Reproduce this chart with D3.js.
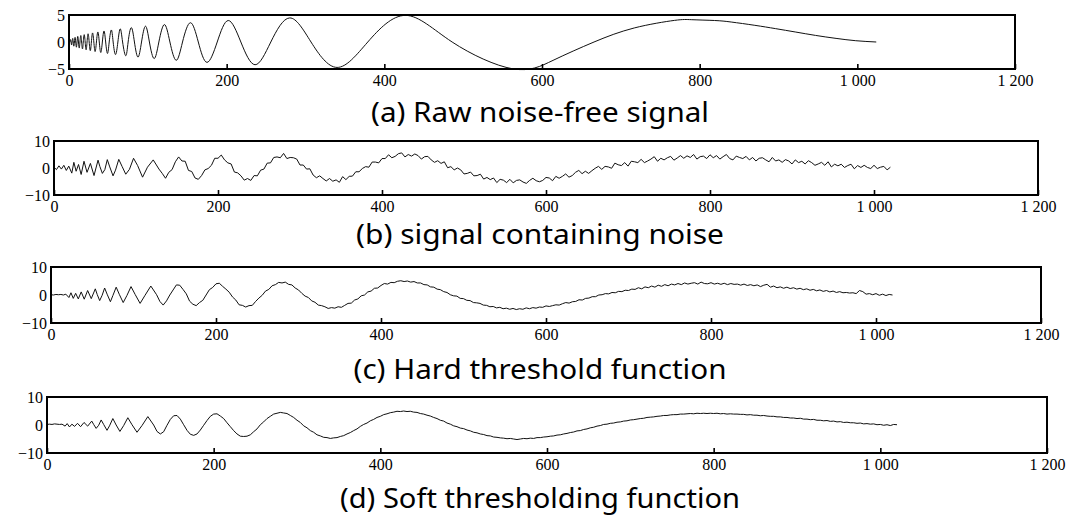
<!DOCTYPE html>
<meta charset="utf-8">
<html>
<head>
<title>wavelet denoising - doppler</title>
<style>
body { margin:0; background:#fff; }
svg text.caption { font-family:"Noto Sans", sans-serif; font-size:28px; fill:#000; }
</style>
</head>
<body>
<svg class="chart" width="1067" height="516"></svg>

<script src="https://cdn.jsdelivr.net/npm/d3@7"></script>
<script>

const xTicks = [0, 200, 400, 600, 800, 1000, 1200]
const captions = [
  "(a) Raw noise-free signal",
  "(b) signal containing noise",
  "(c) Hard threshold function",
  "(d) Soft thresholding function"
]

// (a) clean signal: extrema and zero crossings
const cleanSignal = [
[0,0],[1.2,0],[1.9,0.44],[2.6,0],[3.3,-0.56],[3.9,0],[4.7,0.67],[5.4,0],[6.1,-0.77],[6.9,0],
[7.7,0.86],[8.5,0],[9.4,-0.96],[10.2,0],[11.1,1.04],[12,0],[13,-1.12],[13.9,0],[15,1.2],[16,0],
[17.1,-1.28],[18.1,0],[19.3,1.36],[20.5,0],[21.7,-1.44],[22.9,0],[24.2,1.52],[25.6,0],[27,-1.6],[28.4,0],
[29.9,1.68],[31.5,0],[33.1,-1.77],[34.8,0],[36.6,1.86],[38.4,0],[40.3,-1.95],[42.3,0],[44.4,2.04],[46.5,0],
[48.8,-2.13],[51,0],[53.7,2.23],[56,0],[59,-2.33],[62,0],[65,2.44],[68,0],[72,-2.55],[75,0],
[79,2.67],[83,0],[87.5,-2.8],[92,0],[97,2.93],[102,0],[108,-3.07],[114,0],[121,3.23],[128,0],
[136,-3.39],[144,0],[154,3.57],[164,0],[175,-3.77],[188,0],[202,3.98],[218,0],[236,-4.21],[256,0],
[280,4.46],[307,0],[340,-4.71],[379,0],[427,4.93],[486,0],[563,-4.97],[614,-3.4],[666,0],[717,2.6],
[768,4.0],[790,4.13],[819,3.98],[840,3.7],[870,3.09],[896,2.48],[922,1.84],[947,1.22],[973,0.67],[998,0.24],
[1024,0]
]

// sample positions for the noisy / denoised traces
const sampleIdx = [0,3,6,9,12,15,18,21.7,24.2,27,29.9,33.1,36.6,40.3,44.4,48.8,53.7,
  56,59,62,65,68,72,75,79,83,87.5,92,97,102,108,114,121,128].concat(d3.range(132, 1021, 4))

// (b) signal containing noise
const noisySignal = [
0.3,-0.6,0.8,-0.4,1.0,-0.9,0.7, -1.9,2.1,-1.2,1.3,-2.4,2.5,-1.6,1.7,-2.8,2.9,
0.5,-2.0,-0.6,3.1,0.4,-2.9,-0.8,3.2,0.6,-2.3,-0.5,3.6,0.9,-3.4,0.3,3.0,-0.4,
-2.0,-3.8,-1.6,-0.6,2.3,4.1,2.6,2.5,-0.9,-1.3,-3.7,-4.2,-2.8,-0.7,-0.2,1.0,
3.6,3.6,4.8,3.0,1.9,1.5,-1.5,-1.8,-2.9,-4.5,-3.9,-4.6,-2.8,-2.9,-0.8,-0.4,
1.8,1.9,3.9,4.1,3.8,5.4,3.5,3.9,3.8,3.3,1.1,1.1,-0.4,-0.3,-2.6,-3.6,
-2.9,-3.9,-4.8,-3.9,-4.9,-4.4,-5.3,-3.2,-4.3,-3.1,-3.0,-1.4,-1.4,-0.2,0.5,0.3,
2.2,2.2,1.9,3.5,3.5,4.9,3.8,4.3,5.3,5.6,4.1,5.0,4.4,5.2,4.6,3.3,
4.2,4.3,3.0,2.1,2.7,1.7,2.3,0.1,0.5,-0.7,0.0,-0.7,-2.2,-2.0,-1.5,-2.9,
-2.8,-2.3,-4.1,-3.5,-4.3,-3.7,-5.4,-4.2,-4.5,-5.4,-4.2,-5.5,-4.6,-4.4,-5.2,-5.7,
-4.6,-3.8,-4.7,-5.1,-4.6,-3.5,-3.7,-4.7,-3.1,-3.8,-3.1,-2.2,-3.4,-2.8,-1.6,-0.9,
-2.1,-1.2,-2.0,-1.0,-0.1,0.6,-0.5,0.6,0.4,-0.1,1.8,1.2,0.9,2.0,0.7,2.5,
2.3,2.0,3.2,2.0,2.6,3.3,4.2,2.5,3.6,3.0,3.8,4.3,2.9,3.7,4.6,3.6,
4.5,3.9,5.0,3.3,4.2,4.4,3.5,4.9,3.8,4.6,3.3,4.2,5.0,3.5,3.0,4.4,
3.9,3.5,4.3,3.0,3.9,2.6,3.6,3.8,3.0,2.3,3.9,2.6,3.0,2.1,3.1,2.6,
1.5,3.0,2.0,2.5,1.5,2.7,2.0,1.0,1.5,2.1,1.0,2.3,0.4,1.4,0.8,1.4,
0.2,0.9,1.4,-0.3,0.9,0.2,1.0,0.2,-0.2,1.0,-0.2,0.3,0.6,-0.7,0.3
]

// (c) hard threshold result
const hardSignal = [
0.1,0.0,0.2,0.1,0.2,0.0,0.3, -0.9,0.8,-1.2,0.6,-1.4,1.1,-1.5,1.6,-1.3,2.2,
0.2,-2.0,-0.1,2.5,0.3,-2.4,-0.2,2.8,0.1,-2.7,-0.2,3.0,0.2,-3.0,-0.1,3.2,0.1,
-2.3,-3.6,-2.1,0.0,1.8,3.6,3.5,2.0,0.4,-2.2,-3.3,-3.8,-2.7,-1.9,0.0,1.9,
2.7,4.0,4.2,3.1,2.1,1.0,-0.7,-1.8,-3.5,-3.7,-4.3,-3.8,-3.7,-2.3,-1.1,-0.1,
1.4,2.0,3.3,3.7,4.5,4.3,4.6,3.8,3.6,2.5,1.8,0.6,-0.4,-0.9,-2.1,-2.6,
-3.6,-3.8,-4.2,-4.8,-4.5,-4.7,-4.2,-4.4,-3.7,-3.0,-2.9,-1.8,-1.4,-0.3,0.0,1.1,
1.4,2.4,2.5,3.4,4.1,3.9,4.5,4.4,4.9,5.1,4.8,5.0,4.6,4.8,4.3,4.3,
3.7,3.6,2.9,2.8,2.1,1.9,1.2,0.9,0.1,-0.3,-0.4,-1.2,-1.3,-1.9,-2.0,-2.7,
-2.8,-3.0,-3.6,-3.7,-4.2,-4.1,-4.6,-4.4,-4.9,-4.7,-5.1,-4.8,-5.2,-4.9,-5.1,-4.6,
-4.9,-4.5,-4.7,-4.3,-4.4,-3.9,-4.1,-3.8,-3.5,-3.6,-3.1,-2.7,-2.9,-2.4,-2.3,-1.7,
-1.8,-1.2,-1.1,-0.6,-0.6,0.0,0.1,0.5,0.4,0.9,0.8,1.3,1.2,1.7,1.6,2.1,
2.0,2.6,2.2,2.9,2.6,3.2,2.8,3.5,3.1,3.7,3.3,3.9,3.6,4.1,3.7,4.3,
3.9,4.2,4.4,3.9,4.6,4.1,4.0,4.4,3.9,4.2,3.8,4.2,3.7,4.1,3.8,3.9,
3.5,3.9,3.4,3.7,3.3,3.6,3.0,3.5,3.8,2.8,3.2,2.6,2.9,2.4,2.8,2.3,
2.6,2.1,2.4,1.9,2.2,1.7,2.0,1.5,1.8,1.3,1.6,1.1,1.4,0.9,1.2,0.8,
0.9,0.7,0.8,0.5,1.6,1.2,0.3,0.5,0.1,0.5,-0.1,0.3,-0.2,0.2,0.0
]

// (d) soft threshold result
const softSignal = [
0.2,0.3,0.2,0.4,0.3,0.2,0.3, -0.4,0.5,-0.7,0.3,-0.5,0.6,-0.6,0.9,-0.4,1.4,
0.2,-1.2,-0.1,1.8,0.2,-1.9,-0.3,2.3,0.0,-2.3,-0.2,2.6,0.1,-2.6,-0.2,3.0,0.0,
-2.3,-3.2,-2.4,-0.1,2.0,3.3,3.4,2.1,0.1,-1.9,-3.3,-3.7,-3.2,-1.8,-0.1,1.6,
3.1,3.9,4.0,3.2,2.3,0.8,-0.6,-2.0,-3.2,-4.0,-4.1,-4.0,-3.5,-2.4,-1.4,0.1,
1.1,2.3,3.1,3.9,4.2,4.5,4.3,4.1,3.4,2.7,1.7,0.9,-0.3,-1.0,-2.0,-2.6,
-3.5,-3.9,-4.4,-4.5,-4.8,-4.6,-4.5,-4.1,-3.8,-3.2,-2.7,-2.0,-1.4,-0.5,0.2,0.7,
1.5,2.0,2.7,3.1,3.7,4.0,4.4,4.6,4.9,4.8,5.0,4.8,4.9,4.6,4.5,4.1,
3.9,3.5,3.2,2.7,2.3,1.7,1.4,0.7,0.3,-0.3,-0.6,-1.1,-1.3,-1.8,-2.1,-2.6,
-2.8,-3.2,-3.4,-3.8,-3.9,-4.3,-4.4,-4.6,-4.7,-4.9,-4.8,-5.0,-5.2,-5.0,-4.8,-4.9,
-4.7,-4.8,-4.5,-4.5,-4.3,-4.2,-4.0,-3.9,-3.6,-3.5,-3.2,-3.0,-2.7,-2.5,-2.1,-2.0,
-1.6,-1.4,-1.0,-0.8,-0.4,-0.2,0.2,0.3,0.6,0.7,1.0,1.1,1.4,1.5,1.8,1.9,
2.1,2.3,2.4,2.7,2.8,2.9,3.1,3.2,3.4,3.4,3.6,3.7,3.7,3.9,3.9,4.0,
4.1,4.0,4.2,4.1,4.2,4.1,4.2,4.1,4.2,4.0,4.1,3.9,4.0,3.9,3.9,3.8,
3.8,3.6,3.7,3.5,3.5,3.3,3.4,3.2,3.1,3.1,2.9,2.9,2.7,2.7,2.5,2.5,
2.3,2.4,2.1,2.1,1.9,2.0,1.7,1.7,1.5,1.6,1.3,1.4,1.1,1.2,0.9,1.0,
0.8,0.8,0.6,0.7,0.4,0.5,0.3,0.4,0.1,0.2,-0.1,0.1,-0.2,0.2,0.1
]

function pairUp(ys) {
  var n = Math.min(ys.length, sampleIdx.length)
  return d3.range(n).map((i) => [sampleIdx[i], ys[i]])
}

const panels = [
  { data: cleanSignal, ymax: 5, box: [69, 1015, 15, 69], capY: 122, capW: 338, curve: d3.curveNatural },
  { data: pairUp(noisySignal), ymax: 10, box: [54, 1038, 141, 195], capY: 244, capW: 368, curve: d3.curveLinear },
  { data: pairUp(hardSignal), ymax: 10, box: [51, 1041, 267, 323], capY: 379, capW: 373, curve: d3.curveLinear },
  { data: pairUp(softSignal), ymax: 10, box: [47, 1047, 397, 453], capY: 508, capW: 400, curve: d3.curveLinear }
]

const svg = d3.select("svg.chart")
const numFmt = d3.formatLocale({ decimal: ".", thousands: " ", grouping: [3], minus: "\u2212" }).format(",")

function serifText(sel) {
  sel.style("font-family", "Liberation Serif")
    .style("font-size", "16px")
    .style("fill", "#000")
}

panels.forEach((p, i) => {
  var [l, r, t, b] = p.box
  var x = d3.scaleLinear().domain([0, 1200]).range([l, r])
  var y = d3.scaleLinear().domain([-p.ymax, p.ymax]).range([b, t])
  var g = svg.append("g").attr("class", "panel")

  var line = d3.line()
    .x((d) => x(d[0]))
    .y((d) => y(d[1]))
    .curve(p.curve)

  g.append("path")
    .datum(p.data)
    .attr("d", line)
    .attr("fill", "none")
    .attr("stroke", "#111")
    .attr("stroke-width", 1)
    .attr("stroke-linejoin", "round")

  // x axis: ticks point into the box
  var xa = g.append("g")
    .attr("transform", "translate(0," + b + ")")
    .call(d3.axisBottom(x).tickValues(xTicks).tickFormat(numFmt)
      .tickSizeInner(-5).tickSizeOuter(0).tickPadding(6))
  xa.select(".domain").remove()
  xa.selectAll("line").attr("stroke", "#000").attr("stroke-width", 1.6)
  xa.selectAll("text").call(serifText)

  var ya = g.append("g")
    .attr("transform", "translate(" + l + ",0)")
    .call(d3.axisLeft(y).tickValues([-p.ymax, 0, p.ymax]).tickFormat(numFmt)
      .tickSize(0).tickPadding(4))
  ya.select(".domain").remove()
  ya.selectAll("text").call(serifText)

  g.append("rect")
    .attr("x", l).attr("y", t)
    .attr("width", r - l).attr("height", b - t)
    .attr("fill", "none")
    .attr("stroke", "#000")
    .attr("stroke-width", 2)

  svg.append("text")
    .attr("class", "caption")
    .attr("x", 540)
    .attr("y", p.capY)
    .attr("text-anchor", "middle")
    .attr("textLength", p.capW)
    .attr("lengthAdjust", "spacingAndGlyphs")
    .text(captions[i])
})
</script>
</body>
</html>
